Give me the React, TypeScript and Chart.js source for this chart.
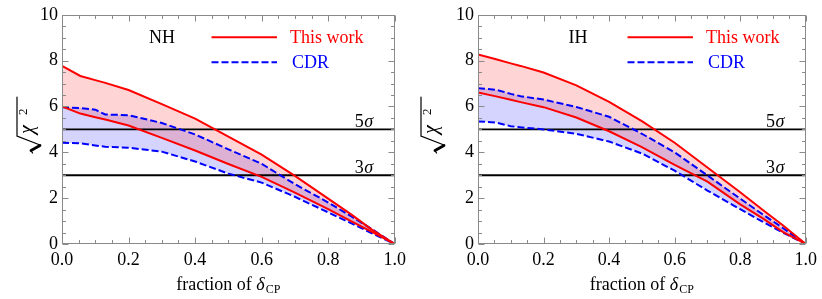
import React, { useEffect, useRef } from "react";
import { Chart, registerables } from "chart.js";

Chart.register(...registerables);

// ---------- data ----------
const fractions = [0, 0.055, 0.1, 0.13, 0.2, 0.3, 0.4, 0.5, 0.6, 0.7, 0.8, 0.87, 0.93, 1.0];

const nhThisWorkUpper = [7.77, 7.33, 7.15, 7.03, 6.72, 6.1, 5.47, 4.68, 3.9, 2.97, 1.98, 1.28, 0.64, 0];
const nhThisWorkLower = [6.0, 5.69, 5.53, 5.43, 5.17, 4.63, 4.08, 3.49, 2.93, 2.24, 1.52, 0.99, 0.54, 0];
const nhCdrUpper = [5.97, 5.93, 5.86, 5.65, 5.62, 5.28, 4.78, 4.13, 3.5, 2.61, 1.81, 1.2, 0.66, 0];
const nhCdrLower = [4.42, 4.39, 4.3, 4.24, 4.2, 4.03, 3.6, 3.07, 2.68, 2.06, 1.38, 0.9, 0.48, 0];

const ihThisWorkUpper = [8.27, 8.06, 7.88, 7.77, 7.48, 6.92, 6.2, 5.36, 4.42, 3.34, 2.26, 1.47, 0.82, 0];
const ihThisWorkLower = [6.61, 6.44, 6.29, 6.19, 5.97, 5.52, 4.92, 4.23, 3.45, 2.72, 1.73, 1.11, 0.53, 0];
const ihCdrUpper = [6.8, 6.73, 6.55, 6.45, 6.3, 5.98, 5.55, 4.81, 4.0, 2.99, 1.98, 1.28, 0.7, 0];
const ihCdrLower = [5.35, 5.3, 5.14, 5.09, 5.0, 4.81, 4.47, 3.95, 3.2, 2.33, 1.52, 0.96, 0.5, 0];

const sigmaLevels = [5, 3];
const sigmaLabels = ["5", "3"];
const legendLabels = ["This work", "CDR"];
const xRange = [0, 1];
const yRange = [0, 10];

const SERIF = "'Liberation Serif', 'Times New Roman', serif";
const RED = "#ff0000";
const BLUE = "#0000ff";
const FRAME = "#8a8a8a";

Chart.defaults.font.family = SERIF;
Chart.defaults.font.size = 18;
Chart.defaults.color = "#000";

const pts = (xs: number[], ys: number[]) => xs.map((x, i) => ({ x, y: ys[i] }));

type PanelProps = {
  tag: string;
  twUpper: number[];
  twLower: number[];
  cdrUpper: number[];
  cdrLower: number[];
  yAxisWidth: number;
  rightPad: number;
  yTitleX: number;
};

function Panel(props: PanelProps) {
  const ref = useRef<HTMLCanvasElement | null>(null);

  useEffect(() => {
    const canvas = ref.current;
    if (!canvas) return;

    const overlay = {
      id: "overlay",
      afterDraw(chart: any) {
        const { ctx, chartArea: ca, scales } = chart;
        const xs = scales.x;
        const ys = scales.y;
        ctx.save();

        // frame
        ctx.strokeStyle = FRAME;
        ctx.lineWidth = 1;
        const L = Math.round(ca.left) + 0.5;
        const R = Math.round(ca.right) - 0.5;
        const T = Math.round(ca.top) + 0.5;
        const B = Math.round(ca.bottom) - 0.5;
        ctx.strokeRect(L, T, R - L, B - T);

        // ticks
        ctx.beginPath();
        for (let i = 0; i <= 20; i++) {
          const v = i * 0.05;
          const px = Math.round(xs.getPixelForValue(v)) + 0.5;
          const len = i % 4 === 0 ? 6 : 3.5;
          ctx.moveTo(px, B);
          ctx.lineTo(px, B - len);
          ctx.moveTo(px, T);
          ctx.lineTo(px, T + len);
        }
        for (let i = 0; i <= 20; i++) {
          const v = i * 0.5;
          const py = Math.round(ys.getPixelForValue(v)) + 0.5;
          const len = i % 4 === 0 ? 6 : 3.5;
          ctx.moveTo(L, py);
          ctx.lineTo(L + len, py);
          ctx.moveTo(R, py);
          ctx.lineTo(R - len, py);
        }
        ctx.stroke();

        // sigma labels
        ctx.fillStyle = "#000";
        ctx.textBaseline = "alphabetic";
        sigmaLevels.forEach((lvl, i) => {
          const py = ys.getPixelForValue(lvl) - 2;
          const xr = ca.left + (ca.right - ca.left) * 0.935;
          ctx.font = `italic 18px ${SERIF}`;
          const sw = ctx.measureText("σ").width;
          ctx.textAlign = "right";
          ctx.fillText("σ", xr, py);
          ctx.font = `18px ${SERIF}`;
          ctx.fillText(sigmaLabels[i], xr - sw - 0.5, py);
        });

        // legend
        const lx = ca.left;
        const ly1 = ca.top + 22.5;
        const ly2 = ca.top + 47.5;
        ctx.font = `18px ${SERIF}`;
        ctx.textAlign = "center";
        ctx.textBaseline = "middle";
        ctx.fillStyle = "#000";
        ctx.fillText(props.tag, lx + 100, ly1 + 1);

        ctx.lineWidth = 2;
        ctx.strokeStyle = RED;
        ctx.setLineDash([]);
        ctx.beginPath();
        ctx.moveTo(lx + 149.5, ly1);
        ctx.lineTo(lx + 215, ly1);
        ctx.stroke();
        ctx.strokeStyle = BLUE;
        ctx.setLineDash([7, 3]);
        ctx.beginPath();
        ctx.moveTo(lx + 149.5, ly2);
        ctx.lineTo(lx + 215, ly2);
        ctx.stroke();
        ctx.setLineDash([]);

        ctx.textAlign = "left";
        ctx.fillStyle = RED;
        ctx.fillText(legendLabels[0], lx + 228, ly1 + 1);
        ctx.fillStyle = BLUE;
        ctx.fillText(legendLabels[1], lx + 230, ly2 + 1);

        // x title: fraction of δ_CP
        ctx.fillStyle = "#000";
        ctx.textBaseline = "alphabetic";
        ctx.textAlign = "left";
        const p1 = "fraction of ";
        ctx.font = `18px ${SERIF}`;
        const w1 = ctx.measureText(p1).width;
        ctx.font = `italic 18px ${SERIF}`;
        const w2 = ctx.measureText("δ").width;
        ctx.font = `12px ${SERIF}`;
        const w3 = ctx.measureText("CP").width;
        const total = w1 + w2 + 1 + w3;
        const cx = (ca.left + ca.right) / 2;
        const x0 = cx - total / 2;
        const base = 290;
        ctx.font = `18px ${SERIF}`;
        ctx.fillText(p1, x0, base);
        ctx.font = `italic 18px ${SERIF}`;
        ctx.fillText("δ", x0 + w1, base);
        ctx.font = `12px ${SERIF}`;
        ctx.fillText("CP", x0 + w1 + w2 + 1, base + 3);

        // y title: sqrt(chi^2), rotated
        ctx.translate(props.yTitleX, 125);
        ctx.rotate(-Math.PI / 2);
        ctx.strokeStyle = "#000";
        ctx.lineCap = "round";
        ctx.lineWidth = 1.3;
        ctx.beginPath();
        ctx.moveTo(-28, 3.5);
        ctx.lineTo(-25.5, 2);
        ctx.stroke();
        ctx.lineWidth = 2.8;
        ctx.beginPath();
        ctx.moveTo(-25.5, 2);
        ctx.lineTo(-20.5, 11);
        ctx.stroke();
        ctx.lineWidth = 1.2;
        ctx.beginPath();
        ctx.moveTo(-20, 11);
        ctx.lineTo(-11, -12);
        ctx.lineTo(28, -12);
        ctx.stroke();
        ctx.fillStyle = "#000";
        ctx.textAlign = "left";
        ctx.font = `italic 20px ${SERIF}`;
        ctx.fillText("χ", -9, 4);
        ctx.font = `13px ${SERIF}`;
        ctx.fillText("2", 10, -2);

        ctx.restore();
      },
    };

    const lineBase = { pointRadius: 0, tension: 0, borderWidth: 2 };
    const tickFont = { family: SERIF, size: 18, style: "normal" as const };

    const chart = new Chart(canvas, {
      type: "line",
      data: {
        datasets: [
          {
            ...lineBase,
            label: "This work upper",
            data: pts(fractions, props.twUpper),
            borderColor: RED,
            backgroundColor: "rgba(255,0,0,0.17)",
            fill: "+1",
          },
          {
            ...lineBase,
            label: "This work lower",
            data: pts(fractions, props.twLower),
            borderColor: RED,
            fill: false,
          },
          {
            ...lineBase,
            label: "CDR upper",
            data: pts(fractions, props.cdrUpper),
            borderColor: BLUE,
            borderDash: [7, 3],
            backgroundColor: "rgba(0,0,255,0.17)",
            fill: "+1",
          },
          {
            ...lineBase,
            label: "CDR lower",
            data: pts(fractions, props.cdrLower),
            borderColor: BLUE,
            borderDash: [7, 3],
            fill: false,
          },
          ...sigmaLevels.map((lvl) => ({
            ...lineBase,
            label: `${lvl} sigma`,
            data: pts(xRange, [lvl, lvl]),
            borderColor: "#000",
            borderWidth: 1.8,
            fill: false,
          })),
        ],
      },
      options: {
        responsive: false,
        animation: false,
        events: [],
        layout: { padding: { top: 12, right: props.rightPad, left: 0, bottom: 0 } },
        plugins: {
          legend: { display: false },
          tooltip: { enabled: false },
          filler: { drawTime: "beforeDatasetsDraw" },
        },
        scales: {
          x: {
            type: "linear",
            min: xRange[0],
            max: xRange[1],
            grid: { display: false, drawTicks: false },
            border: { display: false },
            ticks: {
              stepSize: 0.2,
              padding: 5,
              color: "#000",
              font: tickFont,
              callback: (v: any) => Number(v).toFixed(1),
              maxRotation: 0,
            },
            afterFit: (s: any) => {
              s.height = 55;
            },
          },
          y: {
            type: "linear",
            min: yRange[0],
            max: yRange[1],
            grid: { display: false, drawTicks: false },
            border: { display: false },
            ticks: {
              stepSize: 2,
              padding: 4,
              color: "#000",
              font: tickFont,
              callback: (v: any) => String(Math.round(Number(v))),
            },
            afterFit: (s: any) => {
              s.width = props.yAxisWidth;
            },
          },
        },
      } as any,
      plugins: [overlay],
    });

    return () => chart.destroy();
  }, []);

  return <canvas ref={ref} width={411} height={299} style={{ display: "block", width: 411, height: 299 }} />;
}

export default function App() {
  return (
    <div style={{ position: "absolute", left: 0, top: 0, width: 822, height: 299, display: "flex", background: "#fff" }}>
      <Panel
        tag="NH"
        twUpper={nhThisWorkUpper}
        twLower={nhThisWorkLower}
        cdrUpper={nhCdrUpper}
        cdrLower={nhCdrLower}
        yAxisWidth={62}
        rightPad={16}
        yTitleX={29}
      />
      <Panel
        tag="IH"
        twUpper={ihThisWorkUpper}
        twLower={ihThisWorkLower}
        cdrUpper={ihCdrUpper}
        cdrLower={ihCdrLower}
        yAxisWidth={67}
        rightPad={12}
        yTitleX={22}
      />
    </div>
  );
}
